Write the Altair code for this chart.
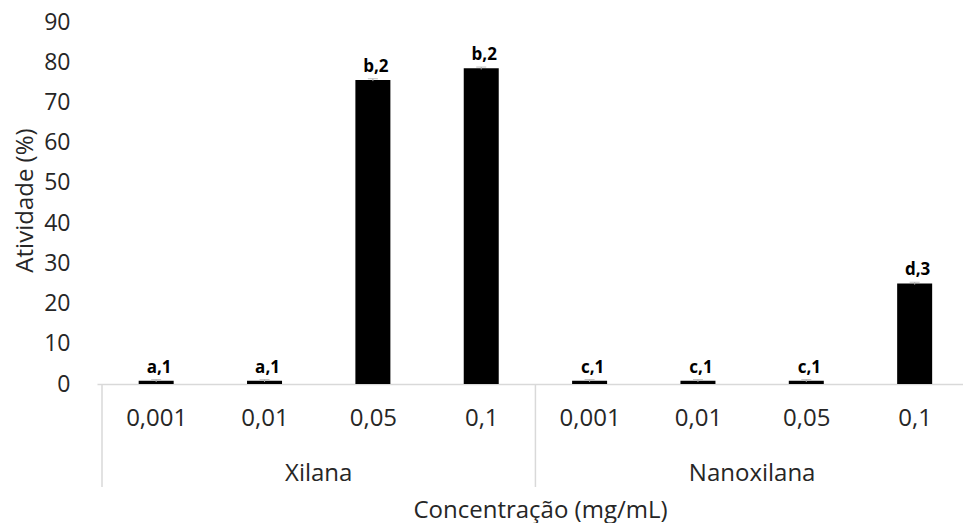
import altair as alt
import pandas as pd

groups = ["Xilana"] * 4 + ["Nanoxilana"] * 4
concentrations = ["0,001", "0,01", "0,05", "0,1", "0,001", "0,01", "0,05", "0,1"]
activity = [0.8, 0.8, 75.6, 78.5, 0.8, 0.8, 0.8, 25.0]
errors = [0.3, 0.3, 0.3, 0.3, 0.3, 0.3, 0.3, 0.3]
letters = ["a,1", "a,1", "b,2", "b,2", "c,1", "c,1", "c,1", "d,3"]
group_names = ["Xilana", "Nanoxilana"]

FONT = "Open Sans"
TXT = "#262626"
W, H = 866, 362

df = pd.DataFrame({
    "pos": [i + 0.5 for i in range(len(concentrations))],
    "grupo": groups,
    "conc": concentrations,
    "val": activity,
    "err": errors,
    "lab": letters,
})
df["hi"] = df["val"] + df["err"]
df["lo"] = df["val"] - df["err"]

gdf = pd.DataFrame({"gpos": [2.0, 6.0], "name": group_names})
sdf = pd.DataFrame({"sep": [0.0, 4.0]})

label_js = "[" + ",".join("'" + c + "'" for c in concentrations) + "]"

xscale = alt.Scale(domain=[0, 7.9], nice=False, zero=False)
xaxis = alt.Axis(
    values=[i + 0.5 for i in range(len(concentrations))],
    labelExpr=label_js + "[round(datum.value - 0.5)]",
    ticks=False, grid=False, domainColor="#d9d9d9", domainWidth=1.5,
    labelFont=FONT, labelFontSize=24, labelColor=TXT, labelPadding=22,
    title="Concentração (mg/mL)", titleFont=FONT, titleFontSize=24,
    titleFontWeight="normal", titleColor=TXT, titleX=443, titleY=126,
    titleBaseline="middle", titleAlign="center",
)
yaxis = alt.Axis(
    values=list(range(0, 91, 10)), ticks=False, grid=False, domain=False,
    labelFont=FONT, labelFontSize=23, labelColor=TXT, labelPadding=27,
    title="Atividade (%)", titleFont=FONT, titleFontSize=24,
    titleFontWeight="normal", titleColor=TXT, titleX=-72, titleY=178,
    titleAngle=270, titleBaseline="middle", titleAlign="center",
)
yscale = alt.Scale(domain=[0, 90], nice=False)

base = alt.Chart(df)

bars = base.mark_bar(width=35, color="black").encode(
    x=alt.X("pos:Q", scale=xscale, axis=xaxis),
    y=alt.Y("val:Q", scale=yscale, axis=yaxis),
)
err_rule = base.mark_rule(color="#a6a6a6").encode(
    x="pos:Q", y="lo:Q", y2="hi:Q"
)
err_cap = base.mark_tick(color="#a6a6a6", size=10, thickness=1, orient="horizontal").encode(
    x="pos:Q", y="hi:Q"
)
labels = base.mark_text(
    font=FONT, fontSize=17, fontWeight="bold", color="black",
    baseline="alphabetic", dy=-7, dx=3,
).encode(x="pos:Q", y="hi:Q", text="lab:N")

seps = alt.Chart(sdf).mark_rule(color="#d9d9d9", strokeWidth=1.5, clip=False).encode(
    x="sep:Q", y=alt.value(H), y2=alt.value(H + 103)
)
glabels = alt.Chart(gdf).mark_text(
    font=FONT, fontSize=24, color=TXT, baseline="middle"
).encode(x="gpos:Q", y=alt.value(H + 90), text="name:N")

chart = alt.layer(bars, err_rule, err_cap, labels, seps, glabels).properties(
    width=W, height=H,
    background="white",
    autosize=alt.AutoSizeParams(type="none"),
    padding={"left": 97, "top": 22, "right": 0, "bottom": 139},
).configure_view(stroke=None).configure_axisY(domain=False, ticks=False, grid=False)

chart.save("out.html", embed_options={"renderer": "svg", "actions": False})
